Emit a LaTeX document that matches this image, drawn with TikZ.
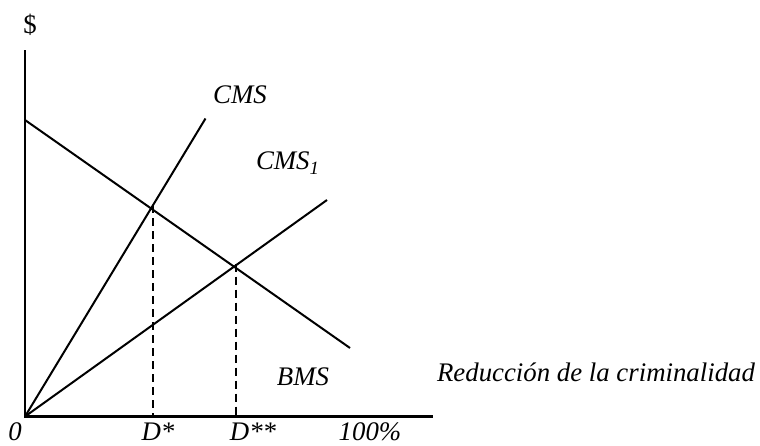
\documentclass[tikz,border=0pt]{standalone}
\usepackage{fontspec}
\setmainfont{Liberation Serif}
\usetikzlibrary{intersections}

\begin{document}
\begin{tikzpicture}
    [x=0.5pt,y=-0.5pt,
      curve/.style={line width=1pt},
      axis/.style={line width=1.1pt},
      drop/.style={line width=1pt,dash pattern=on 4pt off 2.5pt},
      lbl/.style={font=\fontsize{13.4}{16}\selectfont\itshape,inner sep=0pt}
    ]
    \useasboundingbox (0,0) rectangle (760,445);

    \coordinate (O) at (25,416.5);
    \coordinate (yTop) at (25,50);
    \coordinate (xEnd) at (433,416.5);
    \coordinate (bStart) at (25,120);
    \coordinate (bEnd) at (350,348);
    \coordinate (cEnd) at (205.5,118.5);
    \coordinate (c1End) at (327,200);

    \draw [axis] (yTop) -- (O) -- (xEnd);

    \draw [curve,name path=bms] (bStart) -- (bEnd);
    \draw [curve,name path=cms] (O) -- (cEnd);
    \draw [curve,name path=cmsone] (O) -- (c1End);

    \path [name intersections={of=bms and cms,by=Dstar}];
    \path [name intersections={of=bms and cmsone,by=Dstarstar}];
    \coordinate (dropOne) at ([shift={(2,-3)}]Dstar);
    \coordinate (dropTwo) at ([shift={(2,-3)}]Dstarstar);

    \draw [drop] (dropOne) -- (dropOne |- O);
    \draw [drop] (dropTwo) -- (dropTwo |- O);

    \node [lbl,font=\fontsize{13.4}{16}\selectfont] at (30,25) (dollar) {\$};
    \node [lbl] at (240,95) (cmsLabel) {CMS};
    \node [lbl] at (288,163) (cmsoneLabel) {CMS\textsubscript{1}};
    \node [lbl] at (303,377) (bmsLabel) {BMS};
    \node [lbl] at (596,372) (xLabel) {Reducción de la criminalidad};

    \node [lbl] at (15,432) (zero) {0};
    \node [lbl] at (158,432) (dOne) {D*};
    \node [lbl] at (253,432) (dTwo) {D**};
    \node [lbl] at (370,432) (full) {100\%};
  \end{tikzpicture}
\end{document}
